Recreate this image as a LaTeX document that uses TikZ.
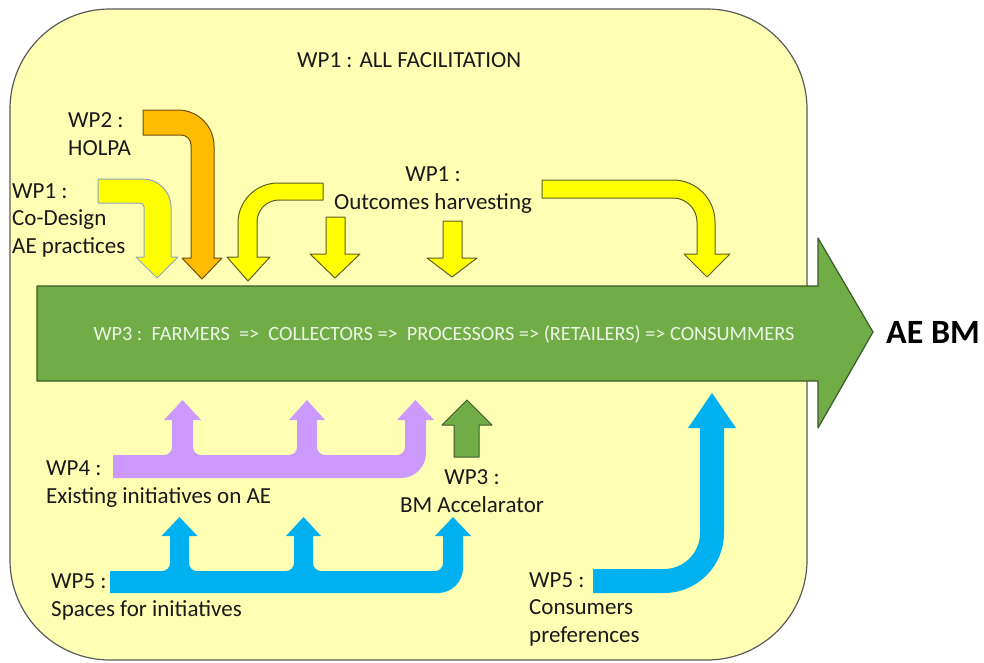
\documentclass[tikz,border=0pt]{standalone}
\usepackage{fontspec}
\setmainfont{Carlito}
\definecolor{boxfill}{RGB}{255,255,180}
\definecolor{boxline}{RGB}{90,90,90}
\definecolor{bmgreen}{RGB}{112,173,71}
\definecolor{bmgreenline}{RGB}{60,90,40}
\definecolor{yel}{RGB}{255,255,0}
\definecolor{yelline}{RGB}{95,95,40}
\definecolor{yelblue}{RGB}{140,165,200}
\definecolor{orng}{RGB}{255,188,0}
\definecolor{orngline}{RGB}{110,80,10}
\definecolor{purp}{RGB}{204,153,255}
\definecolor{blu}{RGB}{0,176,240}
\definecolor{txtc}{RGB}{25,25,25}
\definecolor{lighttxt}{RGB}{236,245,228}
\tikzset{
  lbl/.style={inner sep=0pt, font=\fontsize{23}{27.5}\selectfont, text=txtc, align=left},
  ybox/.style={fill=yel, draw=yelline, line width=1pt, line join=round},
  ybluebox/.style={fill=yel, draw=yelblue, line width=1pt, line join=round},
  obox/.style={fill=orng, draw=orngline, line width=1pt, line join=round},
  gbox/.style={fill=bmgreen, draw=bmgreenline, line width=1.2pt, line join=round},
  pbox/.style={fill=purp},
  bbox/.style={fill=blu}
}
\begin{document}
\begin{tikzpicture}[x=1pt,y=-1pt]
\useasboundingbox (0,0) rectangle (984,662);
% background frame
\draw[fill=boxfill, draw=boxline, line width=1.2pt, rounded corners=100pt] (10,9) rectangle (807,660);

% main green arrow
\draw[gbox] (37,286) -- (818,286) -- (818,238) -- (873,332) -- (818,428) -- (818,381) -- (37,381) -- cycle;
\node[inner sep=0pt, font=\fontsize{20.3}{24}\selectfont, text=lighttxt] (chain) at (444,334)
  {WP3 :\ \ FARMERS\ \ =>\ \ COLLECTORS =>\ \ PROCESSORS => (RETAILERS) => CONSUMMERS};
\node[inner sep=0pt, anchor=west, font=\fontsize{34}{40}\selectfont\bfseries, text=black] (aebm) at (886,332) {AE BM};

% top arrows
% WP1 co-design
\draw[ybluebox] (98,179) -- (143,179) arc[start angle=-90, end angle=0, radius=28]
  -- (171,257) -- (178,257) -- (157,278) -- (136,257) -- (144,257) -- (144,207)
  arc[start angle=0, end angle=-90, radius=4] -- (98,203) -- cycle;
% WP2 HOLPA
\draw[obox] (143,110) -- (178,110) arc[start angle=-90, end angle=0, radius=36]
  -- (214,258) -- (222,258) -- (202,279) -- (182,258) -- (191,258) -- (191,145)
  arc[start angle=0, end angle=-90, radius=10] -- (143,135) -- cycle;
% bending left
\draw[ybox] (323,183) -- (278,183) arc[start angle=-90, end angle=-180, radius=40]
  -- (238,257) -- (227,257) -- (248,281) -- (270,257) -- (257,257) -- (257,222)
  arc[start angle=180, end angle=270, radius=22] -- (323,200) -- cycle;
% straight small ones
\draw[ybox] (326,217) -- (345,217) -- (345,254) -- (360,254) -- (335,278) -- (310,254) -- (326,254) -- cycle;
\draw[ybox] (443,221) -- (462,221) -- (462,258) -- (477,258) -- (452,277) -- (427,258) -- (443,258) -- cycle;
% right bent
\draw[ybox] (542,180) -- (673,180) arc[start angle=-90, end angle=0, radius=42]
  -- (715,254) -- (730,254) -- (707,277) -- (684,254) -- (697,254) -- (697,222)
  arc[start angle=0, end angle=-90, radius=24] -- (542,198) -- cycle;

% purple WP4
\fill[pbox] (113,455) -- (164,455) arc[start angle=90, end angle=0, radius=8]
  -- (172,420) -- (164,420) -- (182.5,400) -- (201,420) -- (193,420) -- (193,447)
  arc[start angle=180, end angle=90, radius=8]
  -- (289,455) arc[start angle=90, end angle=0, radius=8]
  -- (297,420) -- (289,420) -- (307,400) -- (325,420) -- (317,420) -- (317,447)
  arc[start angle=180, end angle=90, radius=8]
  -- (397,455) arc[start angle=90, end angle=0, radius=8]
  -- (405,420) -- (397,420) -- (415.5,400) -- (434,420) -- (426,420) -- (426,453)
  arc[start angle=0, end angle=90, radius=25] -- (113,478) -- cycle;

% green small up arrow WP3
\draw[gbox, line width=1pt] (454,457) -- (454,425) -- (442,425) -- (467,400) -- (492,425) -- (479,425) -- (479,457) -- cycle;

% blue WP5
\fill[bbox] (110,571) -- (162,571) arc[start angle=90, end angle=0, radius=8]
  -- (170,536) -- (161.5,536) -- (179.5,517) -- (197.5,536) -- (189,536) -- (189,563)
  arc[start angle=180, end angle=90, radius=8]
  -- (286,571) arc[start angle=90, end angle=0, radius=8]
  -- (294,536) -- (286,536) -- (303.5,517) -- (321,536) -- (313,536) -- (313,563)
  arc[start angle=180, end angle=90, radius=8]
  -- (435,571) arc[start angle=90, end angle=0, radius=8]
  -- (443,536) -- (435,536) -- (453,517) -- (471,536) -- (463,536) -- (463,568)
  arc[start angle=0, end angle=90, radius=25] -- (110,593) -- cycle;

% blue consumers
\fill[bbox] (593,569) -- (664,569) arc[start angle=90, end angle=0, radius=36]
  -- (700,428) -- (688,428) -- (712,393) -- (736,428) -- (724,428) -- (724,533)
  arc[start angle=0, end angle=90, radius=60] -- (593,593) -- cycle;

% labels
\node[lbl, anchor=west] (allfac) at (297,60) {WP1 : ALL FACILITATION};
\node[lbl, anchor=west] (holpa) at (68,134) {WP2 :\\HOLPA};
\node[lbl, anchor=west] (codesign) at (12,220) {WP1 :\\Co-Design\\AE practices};
\node[lbl, align=center] (outcomes) at (433,190) {WP1 :\\Outcomes harvesting};
\node[lbl, anchor=west] (existing) at (46,484) {WP4 :\\Existing initiatives on AE};
\node[lbl, align=center] (accel) at (472,491) {WP3 :\\BM Accelarator};
\node[lbl, anchor=west] (spaces) at (51,597) {WP5 :\\Spaces for initiatives};
\node[lbl, anchor=west] (consumers) at (529,609) {WP5 :\\Consumers\\preferences};
\end{tikzpicture}
\end{document}
